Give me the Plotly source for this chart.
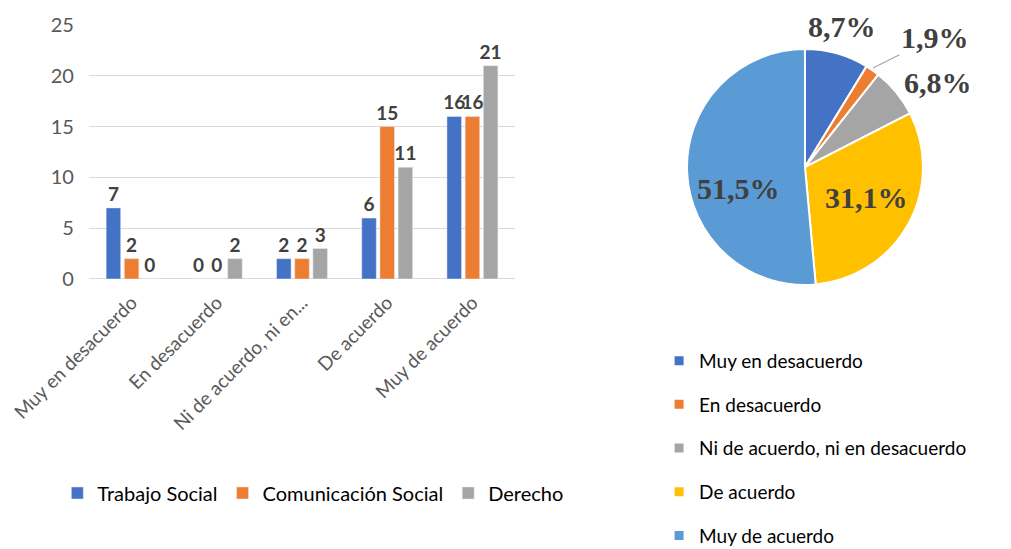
import plotly.graph_objects as go

categories = ["Muy en desacuerdo", "En desacuerdo", "Ni de acuerdo, ni en desacuerdo", "De acuerdo", "Muy de acuerdo"]
tick_labels = ["Muy en desacuerdo", "En desacuerdo", "Ni de acuerdo, ni en...", "De acuerdo", "Muy de acuerdo"]
trabajo_social = [7, 0, 2, 6, 16]
comunicacion_social = [2, 0, 2, 15, 16]
derecho = [0, 2, 3, 11, 21]
pie_values = [9, 2, 7, 32, 53]

bar_colors = ["#4472C4", "#ED7D31", "#A5A5A5"]
pie_colors = ["#4472C4", "#ED7D31", "#A5A5A5", "#FFC000", "#5B9BD5"]
series = [("Trabajo Social", trabajo_social), ("Comunicación Social", comunicacion_social), ("Derecho", derecho)]

FONT = "Lato"
fig = go.Figure()
for (name, vals), col in zip(series, bar_colors):
    fig.add_trace(go.Bar(
        x=categories, y=vals, name=name, marker_color=col,
        text=vals, textposition="outside", cliponaxis=False,
        textfont=dict(family=FONT, size=19, color="#404040", weight="bold"),
        legend="legend", hoverinfo="x+y+name",
    ))

fig.add_trace(go.Pie(
    values=pie_values, labels=categories, sort=False, direction="clockwise", rotation=0,
    marker=dict(colors=pie_colors, line=dict(color="white", width=2)),
    textinfo="none",
    domain=dict(x=[0.6716, 0.9050], y=[0.4954, 0.9253]),
    showlegend=False,
))

for cat, col in zip(categories, pie_colors):
    fig.add_trace(go.Scatter(
        x=[categories[0]], y=[None], mode="markers", name=cat,
        marker=dict(symbol="square", size=9, color=col),
        legend="legend2", legendgroup=cat, showlegend=True,
    ))

# Pie percentage labels (text computed from the data)
total = sum(pie_values)
pct_text = [f"{v / total * 100:.1f}%".replace(".", ",") for v in pie_values]
label_pos = [(0.8249, 0.9672), None, (0.9199, 0.8652), (0.8487, 0.6557), (0.7230, 0.6721)]
lab_font = dict(family="Liberation Serif", size=30, color="#404040", weight="bold")
for txt, pos in zip(pct_text, label_pos):
    if pos is None:
        continue
    fig.add_annotation(x=pos[0], y=pos[1], xref="paper", yref="paper", text=txt,
                       showarrow=False, font=lab_font, xanchor="center", yanchor="middle")
# small slice label with leader line
fig.add_annotation(x=0.8556, y=0.8907, xref="paper", yref="paper", text=pct_text[1],
                   showarrow=True, arrowhead=0, arrowwidth=1.2, arrowcolor="#A5A5A5",
                   ax=62, ay=-31, font=lab_font, standoff=0)

fig.update_layout(
    width=1011, height=549,
    margin=dict(l=0, r=0, t=0, b=0, autoexpand=False),
    paper_bgcolor="white", plot_bgcolor="white",
    separators=",.",
    barmode="group", bargap=0.36, bargroupgap=0.2,
    uniformtext=dict(minsize=19, mode="show"),
    font=dict(family=FONT, size=20, color="#595959"),
    xaxis=dict(domain=[0.0801, 0.5015], tickangle=-45, tickmode="array",
               tickvals=categories, ticktext=tick_labels, automargin=False,
               showgrid=False, showline=False, ticks="", ticklabelstandoff=8,
               tickfont=dict(size=19, color="#595959")),
    yaxis=dict(domain=[0.5064, 0.969], range=[0, 25], dtick=5, automargin=False,
               showgrid=True, gridcolor="#D9D9D9", gridwidth=1,
               zeroline=True, zerolinecolor="#D9D9D9", zerolinewidth=1,
               showline=False, ticks="", ticklabelstandoff=14,
               tickfont=dict(size=20, color="#595959")),
    legend=dict(orientation="h", x=0.302, xanchor="center", y=0.1166, yanchor="middle",
                font=dict(size=20, color="#000000"), itemwidth=30),
    legend2=dict(orientation="v", x=0.644, xanchor="left", y=0.004, yanchor="bottom",
                 font=dict(size=19, color="#000000"), tracegroupgap=16, itemwidth=30),
)

fig.write_html("out.html")
